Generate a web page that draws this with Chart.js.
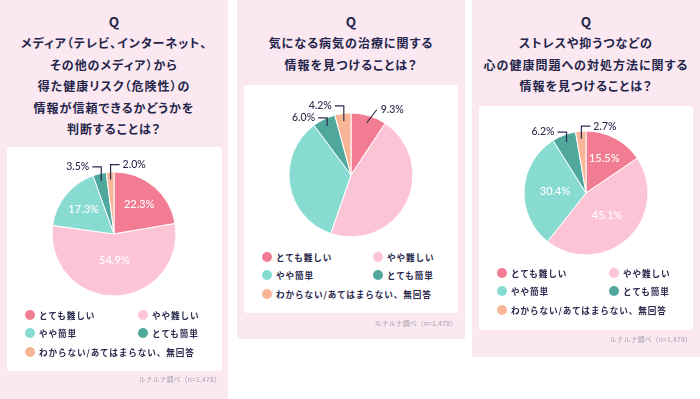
<!DOCTYPE html>
<html><head><meta charset="utf-8">
<script src="https://cdn.jsdelivr.net/npm/chart.js@4/dist/chart.umd.min.js"></script>
<style>
html,body{margin:0;padding:0;background:#fff;width:700px;height:399px;overflow:hidden;font-family:"Noto Sans CJK JP",sans-serif;}
.panel{position:absolute;background:#fbe8f1;}
.title{position:absolute;left:0;right:0;top:11px;text-align:center;color:#24254a;font-weight:700;font-size:12px;line-height:21.4px;letter-spacing:1px;font-feature-settings:"palt";}
.title .q{font-size:13.5px;letter-spacing:0;}
.card{position:absolute;background:#fff;border-radius:3px;}
.card canvas{position:absolute;left:0;top:0;}
.leg{position:absolute;height:12px;display:flex;align-items:center;font-size:8.6px;font-weight:700;color:#2a2a4e;white-space:nowrap;letter-spacing:.9px;}
.dot{width:10px;height:10px;border-radius:50%;margin-right:4px;flex:none;}
.src{position:absolute;font-size:6.8px;color:#a5a5ab;white-space:nowrap;line-height:10px;letter-spacing:.2px;}
</style>
</head><body>
<script>
// ---- data ----
const categories = ["とても難しい", "やや難しい", "やや簡単", "とても簡単", "わからない/あてはまらない、無回答"];
const valuesMedia   = [22.3, 54.9, 17.3, 3.5, 2.0];
const valuesDisease = [9.3, 46.0, 34.5, 6.0, 4.2];
const valuesMental  = [15.5, 45.1, 30.4, 6.2, 2.7];
const titleMedia   = ["メディア（テレビ、インターネット、", "その他のメディア）から", "得た健康リスク（危険性）の", "情報が信頼できるかどうかを", "判断することは？"];
const titleDisease = ["気になる病気の治療に関する", "情報を見つけることは？"];
const titleMental  = ["ストレスや抑うつなどの", "心の健康問題への対処方法に関する", "情報を見つけることは？"];
const sourceNote = "ルナルナ調べ（n=1,478）";

// ---- style / layout ----
const sliceColors = ["#f27d93", "#fcc4d4", "#88dbd1", "#50a89c", "#f9b696"];
const panels = [
  {values: valuesMedia, title: titleMedia,
   pink:{l:0,t:0,w:228,h:399}, card:{l:7,t:147,w:215,h:224}, cx:107, cy:87,
   rows:[168,186,205], cols:[23,136], srcY:374,
   outside:[null,null,null,{side:'left',rise:14},{side:'right',rise:15}]},
  {values: valuesDisease, title: titleDisease,
   pink:{l:237,t:0,w:228,h:339}, card:{l:244,t:85,w:214,h:228}, cx:107, cy:90,
   rows:[172,190,209], cols:[23,134], srcY:318,
   outside:[{side:'diag',rise:13},null,null,{side:'left',rise:8},{side:'left',rise:15}]},
  {values: valuesMental, title: titleMental,
   pink:{l:472,t:0,w:228,h:357}, card:{l:479,t:106,w:214,h:224}, cx:107, cy:87,
   rows:[167,185,204], cols:[23,135], srcY:334,
   outside:[null,null,null,{side:'left',rise:10},{side:'right',rise:12.5}]}
];

const labelPlugin = {
  id: 'pieLabels',
  afterDatasetsDraw(chart, args, opts) {
    const ctx = chart.ctx;
    const meta = chart.getDatasetMeta(0);
    const vals = chart.data.datasets[0].data;
    ctx.save();
    meta.data.forEach((arc, i) => {
      const p = arc.getProps(['x','y','startAngle','endAngle','outerRadius'], true);
      const a = (p.startAngle + p.endAngle) / 2, r = p.outerRadius;
      const txt = vals[i].toFixed(1) + '%';
      const place = opts.outside[i];
      ctx.textBaseline = 'middle';
      if (!place) {
        const f = vals[i] > 50 ? 0.42 : vals[i] > 25 ? 0.5 : 0.63;
        ctx.fillStyle = '#ffffff';
        ctx.font = '500 11px Lato, "Noto Sans CJK JP", sans-serif';
        ctx.textAlign = 'center';
        ctx.fillText(txt, p.x + Math.cos(a) * r * f, p.y + Math.sin(a) * r * f);
      } else {
        const ax = p.x + Math.cos(a) * r * 0.88, ay = p.y + Math.sin(a) * r * 0.88;
        const ey = ay - place.rise;
        ctx.strokeStyle = '#2a2a4e';
        ctx.lineWidth = 1.2;
        ctx.beginPath();
        ctx.moveTo(ax, ay);
        let tx;
        if (place.side === 'diag') { ctx.lineTo(ax + 10, ey); tx = ax + 14; ctx.textAlign = 'left'; }
        else if (place.side === 'left') { ctx.lineTo(ax, ey); ctx.lineTo(ax - 9, ey); tx = ax - 12; ctx.textAlign = 'right'; }
        else { ctx.lineTo(ax, ey); ctx.lineTo(ax + 9, ey); tx = ax + 12; ctx.textAlign = 'left'; }
        ctx.stroke();
        ctx.fillStyle = '#2a2a4e';
        ctx.font = '500 10.5px Lato, "Noto Sans CJK JP", sans-serif';
        ctx.fillText(txt, tx, ey);
      }
    });
    ctx.restore();
  }
};

panels.forEach(cfg => {
  const pk = document.createElement('div');
  pk.className = 'panel';
  Object.assign(pk.style, {left: cfg.pink.l + 'px', top: cfg.pink.t + 'px', width: cfg.pink.w + 'px', height: cfg.pink.h + 'px'});
  document.body.appendChild(pk);

  const t = document.createElement('div');
  t.className = 'title';
  const q = document.createElement('div'); q.className = 'q'; q.textContent = 'Q'; t.appendChild(q);
  cfg.title.forEach(line => { const d = document.createElement('div'); d.textContent = line; t.appendChild(d); });
  pk.appendChild(t);

  const card = document.createElement('div');
  card.className = 'card';
  Object.assign(card.style, {left: (cfg.card.l - cfg.pink.l) + 'px', top: (cfg.card.t - cfg.pink.t) + 'px', width: cfg.card.w + 'px', height: cfg.card.h + 'px'});
  pk.appendChild(card);

  const W = cfg.card.w, H = 165, R = 62.5;
  const cv = document.createElement('canvas');
  cv.width = W; cv.height = H;
  cv.style.width = W + 'px'; cv.style.height = H + 'px';
  card.appendChild(cv);

  categories.forEach((c, i) => {
    const it = document.createElement('div');
    it.className = 'leg';
    const col = i % 2, row = Math.floor(i / 2);
    it.style.left = (cfg.cols[col] - 5) + 'px';
    it.style.top = (cfg.rows[row] - 6) + 'px';
    const d = document.createElement('span'); d.className = 'dot'; d.style.background = sliceColors[i];
    const s = document.createElement('span'); s.textContent = c;
    it.appendChild(d); it.appendChild(s);
    card.appendChild(it);
  });

  const src = document.createElement('div');
  src.className = 'src';
  src.textContent = sourceNote;
  src.style.right = (cfg.pink.l + cfg.pink.w - (cfg.card.l + cfg.card.w) + 1) + 'px';
  src.style.top = (cfg.srcY - cfg.pink.t) + 'px';
  pk.appendChild(src);

  new Chart(cv, {
    type: 'pie',
    data: {
      labels: categories,
      datasets: [{data: cfg.values, backgroundColor: sliceColors, borderColor: '#ffffff', borderWidth: 1}]
    },
    options: {
      responsive: false,
      animation: false,
      events: [],
      layout: {padding: {left: cfg.cx - R, right: W - cfg.cx - R, top: cfg.cy - R, bottom: H - cfg.cy - R}},
      plugins: {legend: {display: false}, tooltip: {enabled: false}, pieLabels: {outside: cfg.outside}}
    },
    plugins: [labelPlugin]
  });
});
</script>
</body></html>
